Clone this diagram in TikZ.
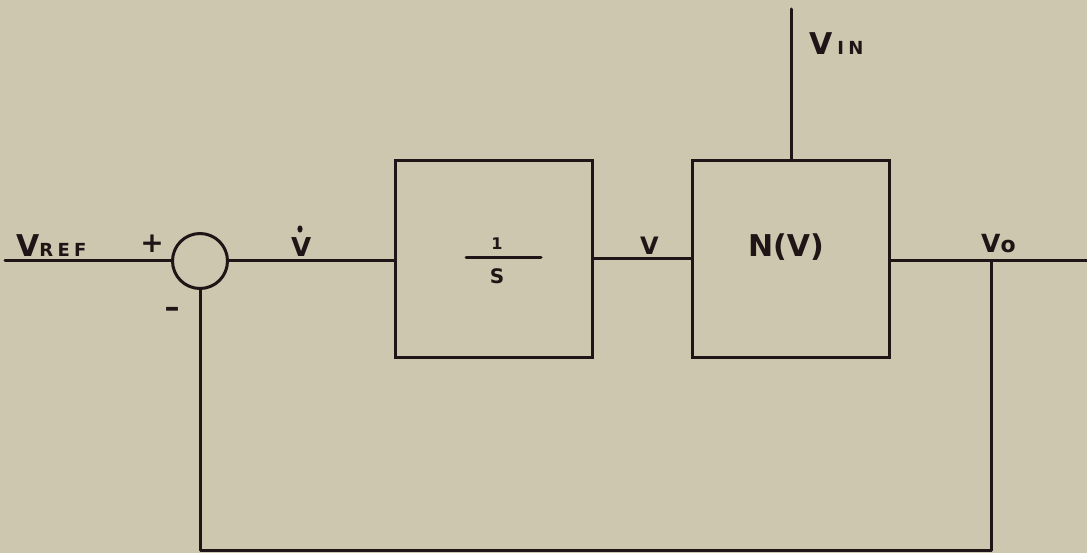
\documentclass[tikz,border=0pt]{standalone}
\usepackage{fontspec}
\setmainfont{DejaVu Sans}
\definecolor{paper}{RGB}{204,199,174}
\definecolor{ink}{RGB}{30,22,22}
\newcommand\lowtxt[1]{{\bfseries\fontsize{18}{18}\selectfont\addfontfeature{LetterSpace=24}#1}}
\begin{document}
\begin{tikzpicture}[x=1pt,y=-1pt,
  wire/.style={draw=ink,line width=3pt,line cap=round,line join=round},
  blockbox/.style={rectangle,draw=ink,line width=3pt,minimum width=197pt,minimum height=197pt,inner sep=0pt},
  sumnode/.style={circle,draw=ink,line width=3pt,minimum size=55pt,inner sep=0pt},
  lbl/.style={text=ink,inner sep=0pt,anchor=base west,font=\bfseries\fontsize{30}{32}\selectfont}]
\fill[paper] (0,0) rectangle (1087,553);
\useasboundingbox (0,0) rectangle (1087,553);
% nodes
\node[sumnode] (sum) at (200,261) {};
\node[blockbox,line width=3pt] (int) at (494,259) {};
\node[blockbox,line width=3pt] (nv) at (791,259) {};
\coordinate (vref) at (5,261);
\coordinate (out) at (1087,261);
\coordinate (vin) at (791,9);
\coordinate (tap) at (991,261);
\coordinate (br) at (991,550);
\coordinate (bl) at (200,550);
% connectors
\draw[wire] (vref) -- (sum.west);
\draw[wire] (sum.east) -- (sum.east -| int.west);
\draw[wire] (int.east |- 0,259) -- (nv.west |- 0,259);
\draw[wire] (nv.east |- out) -- (out);
\draw[wire] (vin) -- (nv.north);
\draw[wire] (tap) -- (br) -- (bl) -- (sum.south);
% fraction in integrator
\draw[wire] (466,258) -- (541,258);
\node[text=ink,inner sep=0pt,font=\bfseries\fontsize{16}{16}\selectfont] (one) at (497,244) {1};
\node[text=ink,inner sep=0pt,font=\bfseries\fontsize{20}{20}\selectfont] (ess) at (497,276) {S};
% labels
\node[lbl] (lref) at (16,257) {V\lowtxt{REF}};
\node[text=ink,inner sep=0pt,font=\bfseries\fontsize{28}{28}\selectfont] (plus) at (152,244) {+};
\node[text=ink,inner sep=0pt,font=\bfseries\fontsize{30}{30}\selectfont] (minus) at (172,312) {–};
\node[lbl,font=\bfseries\fontsize{26}{28}\selectfont] (vdot) at (291,257) {V};
\fill[ink] (300,229) ellipse (2.6pt and 3.6pt);
\node[lbl,font=\bfseries\fontsize{24}{26}\selectfont] (vmid) at (640,255) {V};
\node[text=ink,inner sep=0pt,anchor=base,font=\bfseries\fontsize{30}{32}\selectfont] (nvt) at (786,257) {N(V)};
\node[lbl] (lin) at (809,55) {V\,\lowtxt{IN}};
\node[lbl,font=\bfseries\fontsize{25}{28}\selectfont] (lo) at (981,253) {V{\fontsize{22}{24}\selectfont o}};
\end{tikzpicture}
\end{document}
